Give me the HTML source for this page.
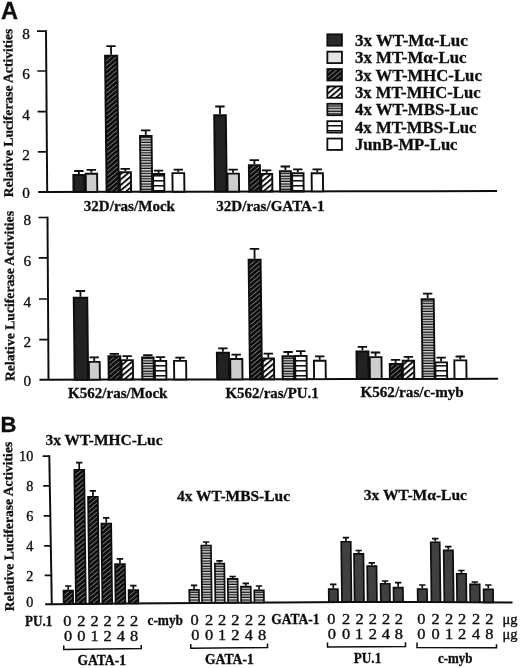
<!DOCTYPE html>
<html><head><meta charset="utf-8"><title>Figure</title>
<style>html,body{margin:0;padding:0;background:#fff;}svg{display:block;}</style>
</head><body>
<svg width="520" height="668" viewBox="0 0 520 668">

<defs>
<filter id="soft" x="0" y="0" width="100%" height="100%"><feGaussianBlur stdDeviation="0.38"/></filter>
<pattern id="p3" width="3.5" height="3.5" patternUnits="userSpaceOnUse" patternTransform="rotate(-40)">
  <rect width="3.5" height="3.5" fill="#0a0a0a"/>
  <rect y="0" width="3.5" height="0.75" fill="#8c8c8c"/>
</pattern>
<pattern id="p4" width="4.2" height="4.2" patternUnits="userSpaceOnUse" patternTransform="rotate(-40)">
  <rect width="4.2" height="4.2" fill="#fff"/>
  <rect y="0" width="4.2" height="1.9" fill="#0d0d0d"/>
</pattern>
<pattern id="p5" width="2.6" height="2.6" patternUnits="userSpaceOnUse">
  <rect width="2.6" height="2.6" fill="#0d0d0d"/>
  <rect y="0.15" width="2.6" height="1.15" fill="#ffffff"/>
</pattern>
<pattern id="p6" width="5.0" height="5.0" patternUnits="userSpaceOnUse">
  <rect width="5" height="5" fill="#fff"/>
  <rect y="0" width="5" height="1.5" fill="#0d0d0d"/>
</pattern>
</defs>

<rect width="520" height="668" fill="#fff"/>
<g filter="url(#soft)" fill="#0d0d0d">
<text x="1.00" y="18.50" font-family='"Liberation Sans", sans-serif' font-size="23.6" font-weight="bold" text-anchor="start" stroke="#0d0d0d" stroke-width="0.3" >A</text>
<text x="0.40" y="432.40" font-family='"Liberation Sans", sans-serif' font-size="22" font-weight="bold" text-anchor="start" stroke="#0d0d0d" stroke-width="0.3" >B</text>
<g transform="matrix(1,0,0.0115,1,-2.2080,0)">
<path d="M47.85 30.3L47.2 192.0" stroke="#0d0d0d" stroke-width="1.95" fill="none"/>
<path d="M38.20 192.02 L47.20 192.00 L125.00 191.83 L200.00 191.66 L275.01 191.49 L350.01 191.33 L430.01 191.15 L497.11 191.00" stroke="#0d0d0d" stroke-width="2.05" fill="none"/>
<path d="M38.85 31.1H47.85" stroke="#0d0d0d" stroke-width="1.7"/>
<path d="M38.69 71.0H47.69" stroke="#0d0d0d" stroke-width="1.7"/>
<path d="M38.52 111.6H47.52" stroke="#0d0d0d" stroke-width="1.7"/>
<path d="M38.36 151.9H47.36" stroke="#0d0d0d" stroke-width="1.7"/>
<rect x="73.50" y="174.95" width="11.20" height="16.98" fill="#202020" stroke="#0d0d0d" stroke-width="1.9"/>
<path d="M79.10 174.00V171.00M74.40 171.00H83.80" stroke="#0d0d0d" stroke-width="1.8" fill="none"/>
<rect x="85.91" y="173.75" width="11.40" height="18.15" fill="#cdcdcd" stroke="#0d0d0d" stroke-width="1.9"/>
<path d="M91.61 172.80V169.80M86.91 169.80H96.31" stroke="#0d0d0d" stroke-width="1.8" fill="none"/>
<rect x="106.59" y="55.65" width="12.20" height="136.21" fill="url(#p3)" stroke="#0d0d0d" stroke-width="1.9"/>
<path d="M112.69 54.70V46.20M107.99 46.20H117.39" stroke="#0d0d0d" stroke-width="1.8" fill="none"/>
<rect x="119.92" y="172.25" width="11.20" height="19.58" fill="url(#p4)" stroke="#0d0d0d" stroke-width="1.9"/>
<path d="M125.52 171.30V168.80M120.82 168.80H130.22" stroke="#0d0d0d" stroke-width="1.8" fill="none"/>
<rect x="140.63" y="135.95" width="11.60" height="55.83" fill="url(#p5)" stroke="#0d0d0d" stroke-width="1.9"/>
<path d="M146.43 135.00V130.30M141.73 130.30H151.13" stroke="#0d0d0d" stroke-width="1.8" fill="none"/>
<rect x="153.21" y="174.05" width="11.20" height="17.70" fill="url(#p6)" stroke="#0d0d0d" stroke-width="1.9"/>
<path d="M158.81 173.10V170.70M154.11 170.70H163.51" stroke="#0d0d0d" stroke-width="1.8" fill="none"/>
<rect x="172.62" y="173.15" width="11.80" height="18.56" fill="#fff" stroke="#0d0d0d" stroke-width="1.9"/>
<path d="M178.52 172.20V169.60M173.82 169.60H183.22" stroke="#0d0d0d" stroke-width="1.8" fill="none"/>
<rect x="215.05" y="115.25" width="11.70" height="76.36" fill="#202020" stroke="#0d0d0d" stroke-width="1.9"/>
<path d="M220.90 114.30V106.50M216.20 106.50H225.60" stroke="#0d0d0d" stroke-width="1.8" fill="none"/>
<rect x="227.61" y="173.65" width="11.50" height="17.94" fill="#cdcdcd" stroke="#0d0d0d" stroke-width="1.9"/>
<path d="M233.36 172.70V169.60M228.66 169.60H238.06" stroke="#0d0d0d" stroke-width="1.8" fill="none"/>
<rect x="249.16" y="165.15" width="11.10" height="26.39" fill="url(#p3)" stroke="#0d0d0d" stroke-width="1.9"/>
<path d="M254.71 164.20V160.20M250.01 160.20H259.41" stroke="#0d0d0d" stroke-width="1.8" fill="none"/>
<rect x="261.41" y="173.85" width="11.00" height="17.66" fill="url(#p4)" stroke="#0d0d0d" stroke-width="1.9"/>
<path d="M266.91 172.90V170.30M262.21 170.30H271.61" stroke="#0d0d0d" stroke-width="1.8" fill="none"/>
<rect x="280.13" y="171.25" width="11.00" height="20.22" fill="url(#p5)" stroke="#0d0d0d" stroke-width="1.9"/>
<path d="M285.63 170.30V166.50M280.93 166.50H290.33" stroke="#0d0d0d" stroke-width="1.8" fill="none"/>
<rect x="292.32" y="173.25" width="11.40" height="18.19" fill="url(#p6)" stroke="#0d0d0d" stroke-width="1.9"/>
<path d="M298.02 172.30V169.40M293.32 169.40H302.72" stroke="#0d0d0d" stroke-width="1.8" fill="none"/>
<rect x="311.82" y="173.25" width="11.30" height="18.15" fill="#fff" stroke="#0d0d0d" stroke-width="1.9"/>
<path d="M317.47 172.30V169.40M312.77 169.40H322.17" stroke="#0d0d0d" stroke-width="1.8" fill="none"/>
</g>
<text x="29.80" y="38.74" font-family='"Liberation Serif", serif' font-size="15.2" font-weight="normal" text-anchor="end" stroke="#0d0d0d" stroke-width="0.35" >8</text>
<text x="29.80" y="79.34" font-family='"Liberation Serif", serif' font-size="15.2" font-weight="normal" text-anchor="end" stroke="#0d0d0d" stroke-width="0.35" >6</text>
<text x="29.80" y="119.64" font-family='"Liberation Serif", serif' font-size="15.2" font-weight="normal" text-anchor="end" stroke="#0d0d0d" stroke-width="0.35" >4</text>
<text x="29.80" y="159.89" font-family='"Liberation Serif", serif' font-size="15.2" font-weight="normal" text-anchor="end" stroke="#0d0d0d" stroke-width="0.35" >2</text>
<text x="29.80" y="198.44" font-family='"Liberation Serif", serif' font-size="15.2" font-weight="normal" text-anchor="end" stroke="#0d0d0d" stroke-width="0.35" >0</text>
<text transform="translate(12.6,113.0) rotate(-90.2)" font-family='"Liberation Serif", serif' font-size="13.4" font-weight="bold" text-anchor="middle" stroke="#0d0d0d" stroke-width="0.3" textLength="168.5" lengthAdjust="spacingAndGlyphs">Relative Luciferase Activities</text>
<text x="83.75" y="210.75" font-family='"Liberation Serif", serif' font-size="15.6" font-weight="bold" text-anchor="start" stroke="#0d0d0d" stroke-width="0.3" textLength="91.25" lengthAdjust="spacingAndGlyphs" >32D/ras/Mock</text>
<text x="216.25" y="210.75" font-family='"Liberation Serif", serif' font-size="15.6" font-weight="bold" text-anchor="start" stroke="#0d0d0d" stroke-width="0.3" textLength="108.25" lengthAdjust="spacingAndGlyphs" >32D/ras/GATA-1</text>
<rect x="327.35" y="34.3" width="14.6" height="11.4" fill="#2c2c2c" stroke="#0d0d0d" stroke-width="1.8"/>
<text x="355.00" y="45.75" font-family='"Liberation Serif", serif' font-size="16.0" font-weight="bold" text-anchor="start" stroke="#0d0d0d" stroke-width="0.3" textLength="112.70" lengthAdjust="spacingAndGlyphs" >3x WT-M&#945;-Luc</text>
<rect x="327.35" y="51.675" width="14.6" height="11.4" fill="#e4e4e4" stroke="#0d0d0d" stroke-width="1.8"/>
<text x="355.00" y="63.12" font-family='"Liberation Serif", serif' font-size="16.0" font-weight="bold" text-anchor="start" stroke="#0d0d0d" stroke-width="0.3" textLength="111.60" lengthAdjust="spacingAndGlyphs" >3x MT-M&#945;-Luc</text>
<rect x="327.35" y="69.05" width="14.6" height="11.4" fill="url(#p3)" stroke="#0d0d0d" stroke-width="1.8"/>
<text x="355.00" y="80.50" font-family='"Liberation Serif", serif' font-size="16.0" font-weight="bold" text-anchor="start" stroke="#0d0d0d" stroke-width="0.3" textLength="126.80" lengthAdjust="spacingAndGlyphs" >3x WT-MHC-Luc</text>
<rect x="327.35" y="86.425" width="14.6" height="11.4" fill="url(#p4)" stroke="#0d0d0d" stroke-width="1.8"/>
<text x="355.00" y="97.88" font-family='"Liberation Serif", serif' font-size="16.0" font-weight="bold" text-anchor="start" stroke="#0d0d0d" stroke-width="0.3" textLength="125.60" lengthAdjust="spacingAndGlyphs" >3x MT-MHC-Luc</text>
<rect x="327.35" y="103.8" width="14.6" height="11.4" fill="url(#p5)" stroke="#0d0d0d" stroke-width="1.8"/>
<text x="355.00" y="115.25" font-family='"Liberation Serif", serif' font-size="16.0" font-weight="bold" text-anchor="start" stroke="#0d0d0d" stroke-width="0.3" textLength="122.90" lengthAdjust="spacingAndGlyphs" >4x WT-MBS-Luc</text>
<rect x="327.35" y="121.175" width="14.6" height="11.4" fill="url(#p6)" stroke="#0d0d0d" stroke-width="1.8"/>
<text x="355.00" y="132.62" font-family='"Liberation Serif", serif' font-size="16.0" font-weight="bold" text-anchor="start" stroke="#0d0d0d" stroke-width="0.3" textLength="121.50" lengthAdjust="spacingAndGlyphs" >4x MT-MBS-Luc</text>
<rect x="327.35" y="138.55" width="14.6" height="11.4" fill="#fff" stroke="#0d0d0d" stroke-width="1.8"/>
<text x="355.00" y="150.00" font-family='"Liberation Serif", serif' font-size="16.0" font-weight="bold" text-anchor="start" stroke="#0d0d0d" stroke-width="0.3" textLength="102.50" lengthAdjust="spacingAndGlyphs" >JunB-MP-Luc</text>
<g transform="matrix(1,0,0.0115,1,-4.3671,0)">
<path d="M49.37 216.7L48.5 379.75" stroke="#0d0d0d" stroke-width="1.95" fill="none"/>
<path d="M39.50 379.77 L48.50 379.75 L125.00 379.58 L200.00 379.41 L275.01 379.25 L350.01 379.08 L430.01 378.90 L498.11 378.75" stroke="#0d0d0d" stroke-width="2.05" fill="none"/>
<path d="M40.37 217.5H49.37" stroke="#0d0d0d" stroke-width="1.7"/>
<path d="M40.15 257.9H49.15" stroke="#0d0d0d" stroke-width="1.7"/>
<path d="M39.93 299.0H48.93" stroke="#0d0d0d" stroke-width="1.7"/>
<path d="M39.71 339.6H48.71" stroke="#0d0d0d" stroke-width="1.7"/>
<rect x="74.68" y="297.75" width="13.50" height="81.93" fill="#202020" stroke="#0d0d0d" stroke-width="1.9"/>
<path d="M81.43 296.80V291.00M76.73 291.00H86.13" stroke="#0d0d0d" stroke-width="1.8" fill="none"/>
<rect x="89.01" y="361.85" width="10.90" height="17.80" fill="#cdcdcd" stroke="#0d0d0d" stroke-width="1.9"/>
<path d="M94.46 360.90V357.40M89.76 357.40H99.16" stroke="#0d0d0d" stroke-width="1.8" fill="none"/>
<rect x="108.74" y="356.25" width="11.80" height="23.35" fill="url(#p3)" stroke="#0d0d0d" stroke-width="1.9"/>
<path d="M114.64 355.30V353.90M109.94 353.90H119.34" stroke="#0d0d0d" stroke-width="1.8" fill="none"/>
<rect x="121.72" y="360.15" width="11.40" height="19.42" fill="url(#p4)" stroke="#0d0d0d" stroke-width="1.9"/>
<path d="M127.42 359.20V356.20M122.72 356.20H132.12" stroke="#0d0d0d" stroke-width="1.8" fill="none"/>
<rect x="142.34" y="357.35" width="11.50" height="22.18" fill="url(#p5)" stroke="#0d0d0d" stroke-width="1.9"/>
<path d="M148.09 356.40V355.20M143.39 355.20H152.79" stroke="#0d0d0d" stroke-width="1.8" fill="none"/>
<rect x="155.02" y="360.85" width="11.40" height="18.65" fill="url(#p6)" stroke="#0d0d0d" stroke-width="1.9"/>
<path d="M160.72 359.90V357.20M156.02 357.20H165.42" stroke="#0d0d0d" stroke-width="1.8" fill="none"/>
<rect x="174.22" y="360.85" width="12.10" height="18.61" fill="#fff" stroke="#0d0d0d" stroke-width="1.9"/>
<path d="M180.27 359.90V357.60M175.57 357.60H184.97" stroke="#0d0d0d" stroke-width="1.8" fill="none"/>
<rect x="217.16" y="352.65" width="12.10" height="26.71" fill="#202020" stroke="#0d0d0d" stroke-width="1.9"/>
<path d="M223.21 351.70V348.30M218.51 348.30H227.91" stroke="#0d0d0d" stroke-width="1.8" fill="none"/>
<rect x="230.43" y="358.95" width="12.10" height="20.38" fill="#cdcdcd" stroke="#0d0d0d" stroke-width="1.9"/>
<path d="M236.48 358.00V354.60M231.78 354.60H241.18" stroke="#0d0d0d" stroke-width="1.8" fill="none"/>
<rect x="250.00" y="259.75" width="12.00" height="119.54" fill="url(#p3)" stroke="#0d0d0d" stroke-width="1.9"/>
<path d="M256.00 258.80V248.80M251.30 248.80H260.70" stroke="#0d0d0d" stroke-width="1.8" fill="none"/>
<rect x="262.93" y="358.55" width="11.30" height="20.71" fill="url(#p4)" stroke="#0d0d0d" stroke-width="1.9"/>
<path d="M268.58 357.60V353.70M263.88 353.70H273.28" stroke="#0d0d0d" stroke-width="1.8" fill="none"/>
<rect x="282.74" y="356.25" width="11.40" height="22.97" fill="url(#p5)" stroke="#0d0d0d" stroke-width="1.9"/>
<path d="M288.44 355.30V352.00M283.74 352.00H293.14" stroke="#0d0d0d" stroke-width="1.8" fill="none"/>
<rect x="295.35" y="355.85" width="11.50" height="23.34" fill="url(#p6)" stroke="#0d0d0d" stroke-width="1.9"/>
<path d="M301.10 354.90V351.10M296.40 351.10H305.80" stroke="#0d0d0d" stroke-width="1.8" fill="none"/>
<rect x="314.12" y="360.75" width="11.70" height="18.40" fill="#fff" stroke="#0d0d0d" stroke-width="1.9"/>
<path d="M319.97 359.80V356.30M315.27 356.30H324.67" stroke="#0d0d0d" stroke-width="1.8" fill="none"/>
<rect x="356.77" y="351.55" width="12.00" height="27.50" fill="#202020" stroke="#0d0d0d" stroke-width="1.9"/>
<path d="M362.77 350.60V346.90M358.07 346.90H367.47" stroke="#0d0d0d" stroke-width="1.8" fill="none"/>
<rect x="369.94" y="357.15" width="11.80" height="21.87" fill="#cdcdcd" stroke="#0d0d0d" stroke-width="1.9"/>
<path d="M375.84 356.20V352.50M371.14 352.50H380.54" stroke="#0d0d0d" stroke-width="1.8" fill="none"/>
<rect x="389.90" y="363.85" width="11.80" height="15.13" fill="url(#p3)" stroke="#0d0d0d" stroke-width="1.9"/>
<path d="M395.80 362.90V359.80M391.10 359.80H400.50" stroke="#0d0d0d" stroke-width="1.8" fill="none"/>
<rect x="402.92" y="360.75" width="11.40" height="18.20" fill="url(#p4)" stroke="#0d0d0d" stroke-width="1.9"/>
<path d="M408.62 359.80V356.80M403.92 356.80H413.32" stroke="#0d0d0d" stroke-width="1.8" fill="none"/>
<rect x="422.57" y="299.25" width="12.10" height="79.66" fill="url(#p5)" stroke="#0d0d0d" stroke-width="1.9"/>
<path d="M428.62 298.30V293.70M423.92 293.70H433.32" stroke="#0d0d0d" stroke-width="1.8" fill="none"/>
<rect x="435.51" y="362.35" width="11.70" height="16.53" fill="url(#p6)" stroke="#0d0d0d" stroke-width="1.9"/>
<path d="M441.36 361.40V357.70M436.66 357.70H446.06" stroke="#0d0d0d" stroke-width="1.8" fill="none"/>
<rect x="454.52" y="360.35" width="12.00" height="18.48" fill="#fff" stroke="#0d0d0d" stroke-width="1.9"/>
<path d="M460.52 359.40V356.50M455.82 356.50H465.22" stroke="#0d0d0d" stroke-width="1.8" fill="none"/>
</g>
<text x="31.10" y="225.24" font-family='"Liberation Serif", serif' font-size="15.2" font-weight="normal" text-anchor="end" stroke="#0d0d0d" stroke-width="0.35" >8</text>
<text x="31.10" y="265.64" font-family='"Liberation Serif", serif' font-size="15.2" font-weight="normal" text-anchor="end" stroke="#0d0d0d" stroke-width="0.35" >6</text>
<text x="31.10" y="306.54" font-family='"Liberation Serif", serif' font-size="15.2" font-weight="normal" text-anchor="end" stroke="#0d0d0d" stroke-width="0.35" >4</text>
<text x="31.10" y="347.39" font-family='"Liberation Serif", serif' font-size="15.2" font-weight="normal" text-anchor="end" stroke="#0d0d0d" stroke-width="0.35" >2</text>
<text x="31.10" y="386.14" font-family='"Liberation Serif", serif' font-size="15.2" font-weight="normal" text-anchor="end" stroke="#0d0d0d" stroke-width="0.35" >0</text>
<text transform="translate(14.0,296.0) rotate(-90.3)" font-family='"Liberation Serif", serif' font-size="13.4" font-weight="bold" text-anchor="middle" stroke="#0d0d0d" stroke-width="0.3" textLength="170" lengthAdjust="spacingAndGlyphs">Relative Luciferase Activities</text>
<text x="68.00" y="398.00" font-family='"Liberation Serif", serif' font-size="15.6" font-weight="bold" text-anchor="start" stroke="#0d0d0d" stroke-width="0.3" textLength="99.50" lengthAdjust="spacingAndGlyphs" >K562/ras/Mock</text>
<text x="225.50" y="397.50" font-family='"Liberation Serif", serif' font-size="15.6" font-weight="bold" text-anchor="start" stroke="#0d0d0d" stroke-width="0.3" textLength="93.25" lengthAdjust="spacingAndGlyphs" >K562/ras/PU.1</text>
<text x="360.50" y="397.00" font-family='"Liberation Serif", serif' font-size="15.6" font-weight="bold" text-anchor="start" stroke="#0d0d0d" stroke-width="0.3" textLength="103.25" lengthAdjust="spacingAndGlyphs" >K562/ras/c-myb</text>
<g transform="matrix(1,0,0.0125,1,-7.5525,0)">
<path d="M51.15 455.3L51.8 604.2" stroke="#0d0d0d" stroke-width="1.95" fill="none"/>
<path d="M45.20 604.26 L51.80 604.20 L125.01 603.56 L200.02 602.90 L275.02 602.40 L350.03 601.90 L430.03 602.00 L512.52 602.50" stroke="#0d0d0d" stroke-width="2.05" fill="none"/>
<path d="M44.55 456.1H51.15" stroke="#0d0d0d" stroke-width="1.7"/>
<path d="M44.68 485.9H51.28" stroke="#0d0d0d" stroke-width="1.7"/>
<path d="M44.81 515.8H51.41" stroke="#0d0d0d" stroke-width="1.7"/>
<path d="M44.94 545.9H51.54" stroke="#0d0d0d" stroke-width="1.7"/>
<path d="M45.07 575.3H51.67" stroke="#0d0d0d" stroke-width="1.7"/>
<rect x="63.68" y="590.55" width="9.50" height="13.51" fill="url(#p3)" stroke="#0d0d0d" stroke-width="1.7"/>
<path d="M68.43 589.70V586.00M65.23 586.00H71.63" stroke="#0d0d0d" stroke-width="1.7" fill="none"/>
<rect x="75.98" y="469.75" width="9.90" height="134.20" fill="url(#p3)" stroke="#0d0d0d" stroke-width="1.7"/>
<path d="M80.93 468.90V462.70M77.73 462.70H84.13" stroke="#0d0d0d" stroke-width="1.7" fill="none"/>
<rect x="89.38" y="496.75" width="9.80" height="107.08" fill="url(#p3)" stroke="#0d0d0d" stroke-width="1.7"/>
<path d="M94.28 495.90V490.90M91.08 490.90H97.48" stroke="#0d0d0d" stroke-width="1.7" fill="none"/>
<rect x="102.38" y="523.65" width="9.80" height="80.07" fill="url(#p3)" stroke="#0d0d0d" stroke-width="1.7"/>
<path d="M107.28 522.80V517.90M104.08 517.90H110.48" stroke="#0d0d0d" stroke-width="1.7" fill="none"/>
<rect x="115.58" y="564.05" width="9.80" height="39.55" fill="url(#p3)" stroke="#0d0d0d" stroke-width="1.7"/>
<path d="M120.48 563.20V558.80M117.28 558.80H123.68" stroke="#0d0d0d" stroke-width="1.7" fill="none"/>
<rect x="128.78" y="590.15" width="9.60" height="13.33" fill="url(#p3)" stroke="#0d0d0d" stroke-width="1.7"/>
<path d="M133.58 589.30V585.60M130.38 585.60H136.78" stroke="#0d0d0d" stroke-width="1.7" fill="none"/>
<rect x="189.48" y="589.95" width="9.60" height="13.00" fill="url(#p5)" stroke="#0d0d0d" stroke-width="1.7"/>
<path d="M194.28 589.10V585.40M191.08 585.40H197.48" stroke="#0d0d0d" stroke-width="1.7" fill="none"/>
<rect x="202.08" y="545.65" width="9.60" height="57.20" fill="url(#p5)" stroke="#0d0d0d" stroke-width="1.7"/>
<path d="M206.88 544.80V542.00M203.68 542.00H210.08" stroke="#0d0d0d" stroke-width="1.7" fill="none"/>
<rect x="215.38" y="563.65" width="9.40" height="39.12" fill="url(#p5)" stroke="#0d0d0d" stroke-width="1.7"/>
<path d="M220.08 562.80V560.90M216.88 560.90H223.28" stroke="#0d0d0d" stroke-width="1.7" fill="none"/>
<rect x="228.08" y="578.75" width="9.80" height="23.93" fill="url(#p5)" stroke="#0d0d0d" stroke-width="1.7"/>
<path d="M232.98 577.90V576.50M229.78 576.50H236.18" stroke="#0d0d0d" stroke-width="1.7" fill="none"/>
<rect x="241.18" y="586.55" width="9.80" height="16.04" fill="url(#p5)" stroke="#0d0d0d" stroke-width="1.7"/>
<path d="M246.08 585.70V583.40M242.88 583.40H249.28" stroke="#0d0d0d" stroke-width="1.7" fill="none"/>
<rect x="254.48" y="590.35" width="9.50" height="12.16" fill="url(#p5)" stroke="#0d0d0d" stroke-width="1.7"/>
<path d="M259.23 589.50V586.00M256.03 586.00H262.43" stroke="#0d0d0d" stroke-width="1.7" fill="none"/>
<rect x="328.91" y="589.05" width="9.20" height="12.96" fill="#414141" stroke="#0d0d0d" stroke-width="1.7"/>
<path d="M333.51 588.20V584.40M330.31 584.40H336.71" stroke="#0d0d0d" stroke-width="1.7" fill="none"/>
<rect x="342.01" y="541.75" width="9.50" height="60.17" fill="#414141" stroke="#0d0d0d" stroke-width="1.7"/>
<path d="M346.76 540.90V537.60M343.56 537.60H349.96" stroke="#0d0d0d" stroke-width="1.7" fill="none"/>
<rect x="354.63" y="553.85" width="9.40" height="48.06" fill="#414141" stroke="#0d0d0d" stroke-width="1.7"/>
<path d="M359.33 553.00V550.50M356.13 550.50H362.53" stroke="#0d0d0d" stroke-width="1.7" fill="none"/>
<rect x="367.66" y="566.15" width="9.30" height="35.78" fill="#414141" stroke="#0d0d0d" stroke-width="1.7"/>
<path d="M372.31 565.30V562.80M369.11 562.80H375.51" stroke="#0d0d0d" stroke-width="1.7" fill="none"/>
<rect x="380.85" y="583.75" width="9.20" height="18.19" fill="#414141" stroke="#0d0d0d" stroke-width="1.7"/>
<path d="M385.45 582.90V581.00M382.25 581.00H388.65" stroke="#0d0d0d" stroke-width="1.7" fill="none"/>
<rect x="393.72" y="587.65" width="9.40" height="14.31" fill="#414141" stroke="#0d0d0d" stroke-width="1.7"/>
<path d="M398.42 586.80V582.60M395.22 582.60H401.62" stroke="#0d0d0d" stroke-width="1.7" fill="none"/>
<rect x="417.81" y="589.05" width="9.40" height="12.94" fill="#414141" stroke="#0d0d0d" stroke-width="1.7"/>
<path d="M422.51 588.20V585.00M419.31 585.00H425.71" stroke="#0d0d0d" stroke-width="1.7" fill="none"/>
<rect x="431.51" y="542.25" width="9.00" height="59.78" fill="#414141" stroke="#0d0d0d" stroke-width="1.7"/>
<path d="M436.01 541.40V538.60M432.81 538.60H439.21" stroke="#0d0d0d" stroke-width="1.7" fill="none"/>
<rect x="444.35" y="550.35" width="9.30" height="51.76" fill="#414141" stroke="#0d0d0d" stroke-width="1.7"/>
<path d="M449.00 549.50V546.60M445.80 546.60H452.20" stroke="#0d0d0d" stroke-width="1.7" fill="none"/>
<rect x="457.11" y="573.75" width="9.40" height="28.44" fill="#414141" stroke="#0d0d0d" stroke-width="1.7"/>
<path d="M461.81 572.90V570.50M458.61 570.50H465.01" stroke="#0d0d0d" stroke-width="1.7" fill="none"/>
<rect x="470.24" y="584.45" width="9.70" height="17.82" fill="#414141" stroke="#0d0d0d" stroke-width="1.7"/>
<path d="M475.09 583.60V582.00M471.89 582.00H478.29" stroke="#0d0d0d" stroke-width="1.7" fill="none"/>
<rect x="483.81" y="589.35" width="9.40" height="13.00" fill="#414141" stroke="#0d0d0d" stroke-width="1.7"/>
<path d="M488.51 588.50V585.00M485.31 585.00H491.71" stroke="#0d0d0d" stroke-width="1.7" fill="none"/>
</g>
<text x="33.30" y="460.50" font-family='"Liberation Serif", serif' font-size="14.2" font-weight="normal" text-anchor="end" stroke="#0d0d0d" stroke-width="0.35" >10</text>
<text x="33.30" y="490.60" font-family='"Liberation Serif", serif' font-size="14.2" font-weight="normal" text-anchor="end" stroke="#0d0d0d" stroke-width="0.35" >8</text>
<text x="33.30" y="520.70" font-family='"Liberation Serif", serif' font-size="14.2" font-weight="normal" text-anchor="end" stroke="#0d0d0d" stroke-width="0.35" >6</text>
<text x="33.30" y="551.10" font-family='"Liberation Serif", serif' font-size="14.2" font-weight="normal" text-anchor="end" stroke="#0d0d0d" stroke-width="0.35" >4</text>
<text x="33.30" y="581.40" font-family='"Liberation Serif", serif' font-size="14.2" font-weight="normal" text-anchor="end" stroke="#0d0d0d" stroke-width="0.35" >2</text>
<text x="33.30" y="606.60" font-family='"Liberation Serif", serif' font-size="14.2" font-weight="normal" text-anchor="end" stroke="#0d0d0d" stroke-width="0.35" >0</text>
<text transform="translate(13.0,526.5) rotate(-90.65)" font-family='"Liberation Serif", serif' font-size="13.4" font-weight="bold" text-anchor="middle" stroke="#0d0d0d" stroke-width="0.3" textLength="169.5" lengthAdjust="spacingAndGlyphs">Relative Luciferase Activities</text>
<text x="45.60" y="444.90" font-family='"Liberation Serif", serif' font-size="15.3" font-weight="bold" text-anchor="start" stroke="#0d0d0d" stroke-width="0.3" textLength="116.90" lengthAdjust="spacingAndGlyphs" >3x WT-MHC-Luc</text>
<text x="177.00" y="501.25" font-family='"Liberation Serif", serif' font-size="15.3" font-weight="bold" text-anchor="start" stroke="#0d0d0d" stroke-width="0.3" textLength="113.00" lengthAdjust="spacingAndGlyphs" >4x WT-MBS-Luc</text>
<text x="363.75" y="500.20" font-family='"Liberation Serif", serif' font-size="15.3" font-weight="bold" text-anchor="start" stroke="#0d0d0d" stroke-width="0.3" textLength="103.25" lengthAdjust="spacingAndGlyphs" >3x WT-M&#945;-Luc</text>
<text x="67.30" y="625.60" font-family='"Liberation Serif", serif' font-size="13.8" font-weight="normal" text-anchor="middle" stroke="#0d0d0d" stroke-width="0.35" textLength="8.20" lengthAdjust="spacingAndGlyphs" >0</text>
<text x="68.20" y="640.60" font-family='"Liberation Serif", serif' font-size="13.8" font-weight="normal" text-anchor="middle" stroke="#0d0d0d" stroke-width="0.35" textLength="8.20" lengthAdjust="spacingAndGlyphs" >0</text>
<text x="81.25" y="625.60" font-family='"Liberation Serif", serif' font-size="13.8" font-weight="normal" text-anchor="middle" stroke="#0d0d0d" stroke-width="0.35" textLength="8.20" lengthAdjust="spacingAndGlyphs" >2</text>
<text x="81.25" y="640.60" font-family='"Liberation Serif", serif' font-size="13.8" font-weight="normal" text-anchor="middle" stroke="#0d0d0d" stroke-width="0.35" textLength="8.20" lengthAdjust="spacingAndGlyphs" >0</text>
<text x="94.50" y="625.60" font-family='"Liberation Serif", serif' font-size="13.8" font-weight="normal" text-anchor="middle" stroke="#0d0d0d" stroke-width="0.35" textLength="8.20" lengthAdjust="spacingAndGlyphs" >2</text>
<text x="94.60" y="640.60" font-family='"Liberation Serif", serif' font-size="13.8" font-weight="normal" text-anchor="middle" stroke="#0d0d0d" stroke-width="0.35" textLength="8.20" lengthAdjust="spacingAndGlyphs" >1</text>
<text x="107.50" y="625.60" font-family='"Liberation Serif", serif' font-size="13.8" font-weight="normal" text-anchor="middle" stroke="#0d0d0d" stroke-width="0.35" textLength="8.20" lengthAdjust="spacingAndGlyphs" >2</text>
<text x="107.50" y="640.60" font-family='"Liberation Serif", serif' font-size="13.8" font-weight="normal" text-anchor="middle" stroke="#0d0d0d" stroke-width="0.35" textLength="8.20" lengthAdjust="spacingAndGlyphs" >2</text>
<text x="120.75" y="625.60" font-family='"Liberation Serif", serif' font-size="13.8" font-weight="normal" text-anchor="middle" stroke="#0d0d0d" stroke-width="0.35" textLength="8.20" lengthAdjust="spacingAndGlyphs" >2</text>
<text x="120.75" y="640.60" font-family='"Liberation Serif", serif' font-size="13.8" font-weight="normal" text-anchor="middle" stroke="#0d0d0d" stroke-width="0.35" textLength="8.20" lengthAdjust="spacingAndGlyphs" >4</text>
<text x="134.00" y="625.60" font-family='"Liberation Serif", serif' font-size="13.8" font-weight="normal" text-anchor="middle" stroke="#0d0d0d" stroke-width="0.35" textLength="8.20" lengthAdjust="spacingAndGlyphs" >2</text>
<text x="134.00" y="640.60" font-family='"Liberation Serif", serif' font-size="13.8" font-weight="normal" text-anchor="middle" stroke="#0d0d0d" stroke-width="0.35" textLength="8.20" lengthAdjust="spacingAndGlyphs" >8</text>
<text x="194.60" y="624.80" font-family='"Liberation Serif", serif' font-size="13.8" font-weight="normal" text-anchor="middle" stroke="#0d0d0d" stroke-width="0.35" textLength="8.20" lengthAdjust="spacingAndGlyphs" >0</text>
<text x="195.40" y="639.80" font-family='"Liberation Serif", serif' font-size="13.8" font-weight="normal" text-anchor="middle" stroke="#0d0d0d" stroke-width="0.35" textLength="8.20" lengthAdjust="spacingAndGlyphs" >0</text>
<text x="209.00" y="624.80" font-family='"Liberation Serif", serif' font-size="13.8" font-weight="normal" text-anchor="middle" stroke="#0d0d0d" stroke-width="0.35" textLength="8.20" lengthAdjust="spacingAndGlyphs" >2</text>
<text x="209.00" y="639.80" font-family='"Liberation Serif", serif' font-size="13.8" font-weight="normal" text-anchor="middle" stroke="#0d0d0d" stroke-width="0.35" textLength="8.20" lengthAdjust="spacingAndGlyphs" >0</text>
<text x="222.10" y="624.80" font-family='"Liberation Serif", serif' font-size="13.8" font-weight="normal" text-anchor="middle" stroke="#0d0d0d" stroke-width="0.35" textLength="8.20" lengthAdjust="spacingAndGlyphs" >2</text>
<text x="222.00" y="639.80" font-family='"Liberation Serif", serif' font-size="13.8" font-weight="normal" text-anchor="middle" stroke="#0d0d0d" stroke-width="0.35" textLength="8.20" lengthAdjust="spacingAndGlyphs" >1</text>
<text x="235.40" y="624.80" font-family='"Liberation Serif", serif' font-size="13.8" font-weight="normal" text-anchor="middle" stroke="#0d0d0d" stroke-width="0.35" textLength="8.20" lengthAdjust="spacingAndGlyphs" >2</text>
<text x="235.40" y="639.80" font-family='"Liberation Serif", serif' font-size="13.8" font-weight="normal" text-anchor="middle" stroke="#0d0d0d" stroke-width="0.35" textLength="8.20" lengthAdjust="spacingAndGlyphs" >2</text>
<text x="249.20" y="624.80" font-family='"Liberation Serif", serif' font-size="13.8" font-weight="normal" text-anchor="middle" stroke="#0d0d0d" stroke-width="0.35" textLength="8.20" lengthAdjust="spacingAndGlyphs" >2</text>
<text x="248.90" y="639.80" font-family='"Liberation Serif", serif' font-size="13.8" font-weight="normal" text-anchor="middle" stroke="#0d0d0d" stroke-width="0.35" textLength="8.20" lengthAdjust="spacingAndGlyphs" >4</text>
<text x="261.90" y="624.80" font-family='"Liberation Serif", serif' font-size="13.8" font-weight="normal" text-anchor="middle" stroke="#0d0d0d" stroke-width="0.35" textLength="8.20" lengthAdjust="spacingAndGlyphs" >2</text>
<text x="262.10" y="639.80" font-family='"Liberation Serif", serif' font-size="13.8" font-weight="normal" text-anchor="middle" stroke="#0d0d0d" stroke-width="0.35" textLength="8.20" lengthAdjust="spacingAndGlyphs" >8</text>
<text x="331.25" y="623.90" font-family='"Liberation Serif", serif' font-size="13.8" font-weight="normal" text-anchor="middle" stroke="#0d0d0d" stroke-width="0.35" textLength="8.20" lengthAdjust="spacingAndGlyphs" >0</text>
<text x="331.90" y="639.20" font-family='"Liberation Serif", serif' font-size="13.8" font-weight="normal" text-anchor="middle" stroke="#0d0d0d" stroke-width="0.35" textLength="8.20" lengthAdjust="spacingAndGlyphs" >0</text>
<text x="346.00" y="623.90" font-family='"Liberation Serif", serif' font-size="13.8" font-weight="normal" text-anchor="middle" stroke="#0d0d0d" stroke-width="0.35" textLength="8.20" lengthAdjust="spacingAndGlyphs" >2</text>
<text x="346.00" y="639.20" font-family='"Liberation Serif", serif' font-size="13.8" font-weight="normal" text-anchor="middle" stroke="#0d0d0d" stroke-width="0.35" textLength="8.20" lengthAdjust="spacingAndGlyphs" >0</text>
<text x="359.60" y="623.90" font-family='"Liberation Serif", serif' font-size="13.8" font-weight="normal" text-anchor="middle" stroke="#0d0d0d" stroke-width="0.35" textLength="8.20" lengthAdjust="spacingAndGlyphs" >2</text>
<text x="359.20" y="639.20" font-family='"Liberation Serif", serif' font-size="13.8" font-weight="normal" text-anchor="middle" stroke="#0d0d0d" stroke-width="0.35" textLength="8.20" lengthAdjust="spacingAndGlyphs" >1</text>
<text x="372.90" y="623.90" font-family='"Liberation Serif", serif' font-size="13.8" font-weight="normal" text-anchor="middle" stroke="#0d0d0d" stroke-width="0.35" textLength="8.20" lengthAdjust="spacingAndGlyphs" >2</text>
<text x="372.90" y="639.20" font-family='"Liberation Serif", serif' font-size="13.8" font-weight="normal" text-anchor="middle" stroke="#0d0d0d" stroke-width="0.35" textLength="8.20" lengthAdjust="spacingAndGlyphs" >2</text>
<text x="386.00" y="623.90" font-family='"Liberation Serif", serif' font-size="13.8" font-weight="normal" text-anchor="middle" stroke="#0d0d0d" stroke-width="0.35" textLength="8.20" lengthAdjust="spacingAndGlyphs" >2</text>
<text x="385.90" y="639.20" font-family='"Liberation Serif", serif' font-size="13.8" font-weight="normal" text-anchor="middle" stroke="#0d0d0d" stroke-width="0.35" textLength="8.20" lengthAdjust="spacingAndGlyphs" >4</text>
<text x="398.75" y="623.90" font-family='"Liberation Serif", serif' font-size="13.8" font-weight="normal" text-anchor="middle" stroke="#0d0d0d" stroke-width="0.35" textLength="8.20" lengthAdjust="spacingAndGlyphs" >2</text>
<text x="398.75" y="639.20" font-family='"Liberation Serif", serif' font-size="13.8" font-weight="normal" text-anchor="middle" stroke="#0d0d0d" stroke-width="0.35" textLength="8.20" lengthAdjust="spacingAndGlyphs" >8</text>
<text x="421.25" y="623.60" font-family='"Liberation Serif", serif' font-size="13.8" font-weight="normal" text-anchor="middle" stroke="#0d0d0d" stroke-width="0.35" textLength="8.20" lengthAdjust="spacingAndGlyphs" >0</text>
<text x="421.40" y="639.20" font-family='"Liberation Serif", serif' font-size="13.8" font-weight="normal" text-anchor="middle" stroke="#0d0d0d" stroke-width="0.35" textLength="8.20" lengthAdjust="spacingAndGlyphs" >0</text>
<text x="435.60" y="623.60" font-family='"Liberation Serif", serif' font-size="13.8" font-weight="normal" text-anchor="middle" stroke="#0d0d0d" stroke-width="0.35" textLength="8.20" lengthAdjust="spacingAndGlyphs" >2</text>
<text x="435.60" y="639.20" font-family='"Liberation Serif", serif' font-size="13.8" font-weight="normal" text-anchor="middle" stroke="#0d0d0d" stroke-width="0.35" textLength="8.20" lengthAdjust="spacingAndGlyphs" >0</text>
<text x="449.00" y="623.60" font-family='"Liberation Serif", serif' font-size="13.8" font-weight="normal" text-anchor="middle" stroke="#0d0d0d" stroke-width="0.35" textLength="8.20" lengthAdjust="spacingAndGlyphs" >2</text>
<text x="449.00" y="639.20" font-family='"Liberation Serif", serif' font-size="13.8" font-weight="normal" text-anchor="middle" stroke="#0d0d0d" stroke-width="0.35" textLength="8.20" lengthAdjust="spacingAndGlyphs" >1</text>
<text x="462.20" y="623.60" font-family='"Liberation Serif", serif' font-size="13.8" font-weight="normal" text-anchor="middle" stroke="#0d0d0d" stroke-width="0.35" textLength="8.20" lengthAdjust="spacingAndGlyphs" >2</text>
<text x="462.20" y="639.20" font-family='"Liberation Serif", serif' font-size="13.8" font-weight="normal" text-anchor="middle" stroke="#0d0d0d" stroke-width="0.35" textLength="8.20" lengthAdjust="spacingAndGlyphs" >2</text>
<text x="476.00" y="623.60" font-family='"Liberation Serif", serif' font-size="13.8" font-weight="normal" text-anchor="middle" stroke="#0d0d0d" stroke-width="0.35" textLength="8.20" lengthAdjust="spacingAndGlyphs" >2</text>
<text x="476.00" y="639.20" font-family='"Liberation Serif", serif' font-size="13.8" font-weight="normal" text-anchor="middle" stroke="#0d0d0d" stroke-width="0.35" textLength="8.20" lengthAdjust="spacingAndGlyphs" >4</text>
<text x="489.40" y="623.60" font-family='"Liberation Serif", serif' font-size="13.8" font-weight="normal" text-anchor="middle" stroke="#0d0d0d" stroke-width="0.35" textLength="8.20" lengthAdjust="spacingAndGlyphs" >2</text>
<text x="489.40" y="639.20" font-family='"Liberation Serif", serif' font-size="13.8" font-weight="normal" text-anchor="middle" stroke="#0d0d0d" stroke-width="0.35" textLength="8.20" lengthAdjust="spacingAndGlyphs" >8</text>
<text x="25.00" y="625.60" font-family='"Liberation Serif", serif' font-size="14.2" font-weight="bold" text-anchor="start" stroke="#0d0d0d" stroke-width="0.3" textLength="27.20" lengthAdjust="spacingAndGlyphs" >PU.1</text>
<text x="147.50" y="624.60" font-family='"Liberation Serif", serif' font-size="14.0" font-weight="bold" text-anchor="start" stroke="#0d0d0d" stroke-width="0.3" textLength="35.50" lengthAdjust="spacingAndGlyphs" >c-myb</text>
<text x="271.25" y="623.90" font-family='"Liberation Serif", serif' font-size="14.0" font-weight="bold" text-anchor="start" stroke="#0d0d0d" stroke-width="0.3" textLength="48.25" lengthAdjust="spacingAndGlyphs" >GATA-1</text>
<text x="502.50" y="623.50" font-family='"Liberation Serif", serif' font-size="14.0" font-weight="normal" text-anchor="start" stroke="#0d0d0d" stroke-width="0.35" textLength="15.00" lengthAdjust="spacingAndGlyphs" >&#956;g</text>
<text x="502.50" y="639.30" font-family='"Liberation Serif", serif' font-size="14.0" font-weight="normal" text-anchor="start" stroke="#0d0d0d" stroke-width="0.35" textLength="15.00" lengthAdjust="spacingAndGlyphs" >&#956;g</text>
<path d="M63.75 645.6V649.4L141.25 648.6V645.0" stroke="#0d0d0d" stroke-width="1.5" fill="none" stroke-linejoin="miter"/>
<path d="M190.75 643.9V648.2L267.5 647.6V643.6" stroke="#0d0d0d" stroke-width="1.5" fill="none" stroke-linejoin="miter"/>
<path d="M327.5 642.6V647.0L405.5 646.4V642.3" stroke="#0d0d0d" stroke-width="1.5" fill="none" stroke-linejoin="miter"/>
<path d="M417.0 642.5V647.6L496.5 647.7V644.2" stroke="#0d0d0d" stroke-width="1.5" fill="none" stroke-linejoin="miter"/>
<text x="77.40" y="665.00" font-family='"Liberation Serif", serif' font-size="14.0" font-weight="bold" text-anchor="start" stroke="#0d0d0d" stroke-width="0.3" textLength="48.60" lengthAdjust="spacingAndGlyphs" >GATA-1</text>
<text x="205.00" y="663.90" font-family='"Liberation Serif", serif' font-size="14.0" font-weight="bold" text-anchor="start" stroke="#0d0d0d" stroke-width="0.3" textLength="48.75" lengthAdjust="spacingAndGlyphs" >GATA-1</text>
<text x="353.75" y="663.00" font-family='"Liberation Serif", serif' font-size="14.2" font-weight="bold" text-anchor="start" stroke="#0d0d0d" stroke-width="0.3" textLength="27.50" lengthAdjust="spacingAndGlyphs" >PU.1</text>
<text x="438.00" y="663.40" font-family='"Liberation Serif", serif' font-size="14.0" font-weight="bold" text-anchor="start" stroke="#0d0d0d" stroke-width="0.3" textLength="34.50" lengthAdjust="spacingAndGlyphs" >c-myb</text>
</g>
</svg>
</body></html>
